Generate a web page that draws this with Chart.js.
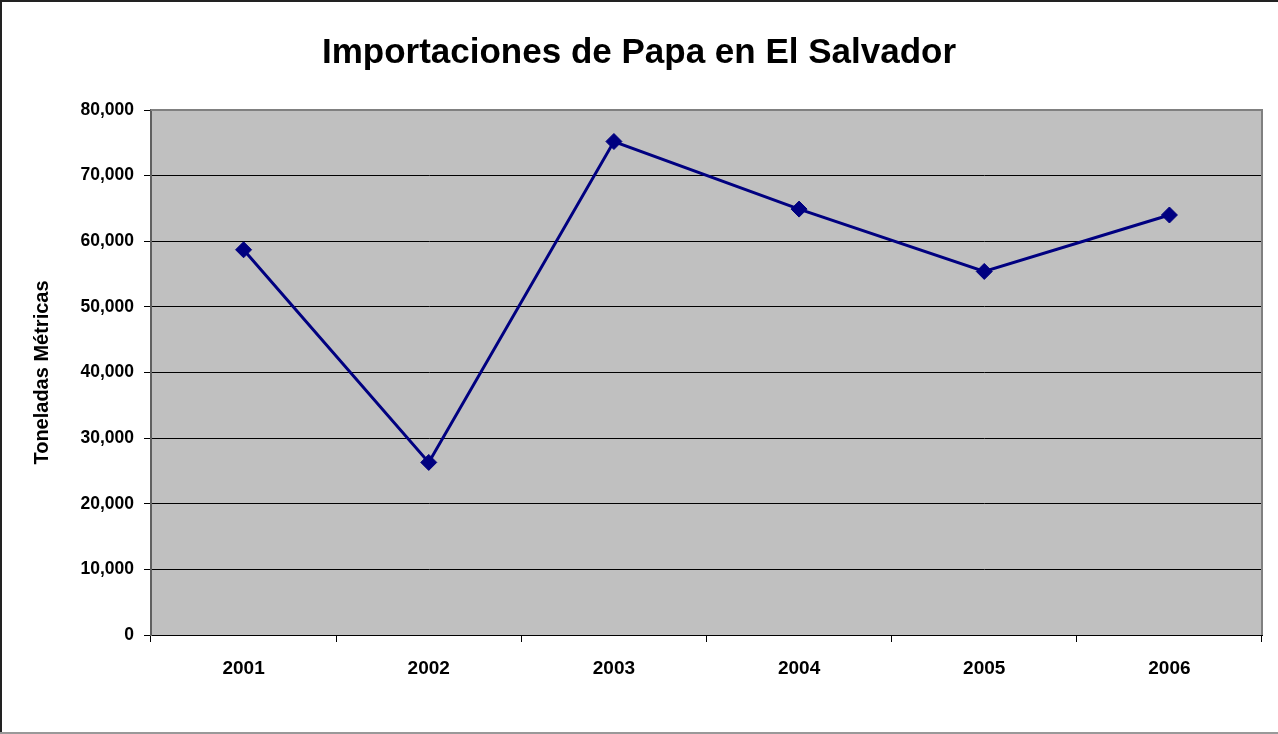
<!DOCTYPE html>
<html>
<head>
<meta charset="utf-8">
<title>Importaciones de Papa en El Salvador</title>
<script src="https://cdn.jsdelivr.net/npm/chart.js@4/dist/chart.umd.min.js"></script>
<style>
  html, body { margin: 0; padding: 0; background: #fff; }
  canvas { display: block; }
</style>
</head>
<body>
<canvas id="chart" width="1278" height="734"></canvas>
<script>
  "use strict";

  // Potato imports, metric tonnes per year
  const YEARS = ["2001", "2002", "2003", "2004", "2005", "2006"];
  const TONNES = [58700, 26300, 75200, 64900, 55400, 64000];
  const Y_MAX = 80000;
  const Y_STEP = 10000;

  const FONT = "Arial, 'Liberation Sans', sans-serif";

  // gray plot background plus frame lines, and the outer picture frame
  const plotFrame = {
    id: "plotFrame",
    beforeDraw(chart) {
      const { ctx, chartArea: a } = chart;
      ctx.save();
      ctx.fillStyle = "#c0c0c0";
      ctx.fillRect(a.left, a.top, a.right - a.left, a.bottom - a.top);
      ctx.restore();
    },
    afterDraw(chart) {
      const { ctx, chartArea: a, width, height } = chart;
      ctx.save();
      ctx.strokeStyle = "#808080";
      ctx.lineWidth = 2;
      ctx.beginPath();
      ctx.moveTo(a.left, a.top);
      ctx.lineTo(a.right, a.top);
      ctx.lineTo(a.right, a.bottom);
      ctx.stroke();

      ctx.strokeStyle = "#222";
      ctx.beginPath();
      ctx.moveTo(1, height);
      ctx.lineTo(1, 1);
      ctx.lineTo(width, 1);
      ctx.stroke();
      ctx.strokeStyle = "#999";
      ctx.beginPath();
      ctx.moveTo(0, height - 1);
      ctx.lineTo(width, height - 1);
      ctx.stroke();
      ctx.restore();
    },
  };

  new Chart(document.getElementById("chart"), {
    type: "line",
    data: {
      labels: YEARS,
      datasets: [{
        data: TONNES,
        borderColor: "#000080",
        backgroundColor: "#000080",
        borderWidth: 3,
        pointStyle: "rectRot",
        pointRadius: 8,
        pointBorderWidth: 1,
        tension: 0,
      }],
    },
    options: {
      responsive: false,
      animation: false,
      devicePixelRatio: 1,
      layout: { padding: 0 },
      plugins: {
        legend: { display: false },
        tooltip: { enabled: false },
        title: {
          display: true,
          text: "Importaciones de Papa en El Salvador",
          color: "#000",
          font: { family: FONT, size: 35, weight: "bold", lineHeight: 1.2 },
          padding: { top: 32, bottom: 36 },
        },
      },
      scales: {
        x: {
          offset: true,
          grid: {
            offset: true,
            drawOnChartArea: false,
            drawTicks: true,
            tickLength: 7,
            color: "#000",
          },
          border: { color: "#000", width: 1 },
          ticks: {
            color: "#000",
            padding: 15,
            maxRotation: 0,
            font: { family: FONT, size: 19, weight: "bold" },
          },
          afterFit(scale) { scale.height = 99; },
        },
        y: {
          min: 0,
          max: Y_MAX,
          grid: { color: "#000", lineWidth: 1, tickLength: 7 },
          border: { color: "#606060", width: 2 },
          ticks: {
            stepSize: Y_STEP,
            color: "#000",
            padding: 10,
            font: { family: FONT, size: 17.5, weight: "bold" },
            callback: (v) => v.toLocaleString("en-US"),
          },
          title: {
            display: true,
            text: "Toneladas Métricas",
            color: "#000",
            font: { family: FONT, size: 20, weight: "bold", lineHeight: 1.2 },
            padding: { top: 30, bottom: 0 },
          },
          afterFit(scale) { scale.width = 151; },
        },
        // empty right-hand margin so the plot stops short of the edge
        yRight: {
          position: "right",
          grid: { display: false },
          border: { display: false },
          ticks: { display: false },
          afterFit(scale) { scale.width = 16; },
        },
      },
    },
    plugins: [plotFrame],
  });
</script>
</body>
</html>
